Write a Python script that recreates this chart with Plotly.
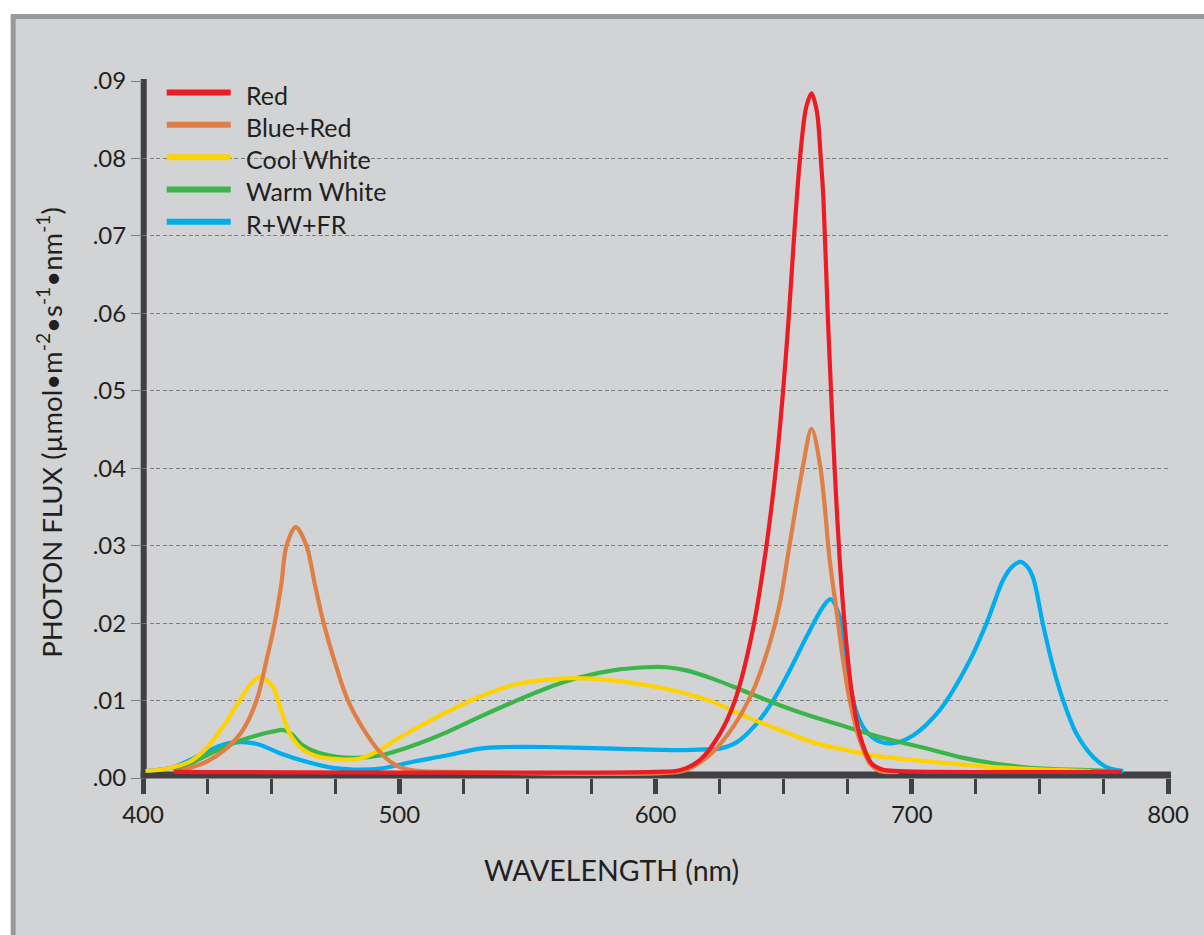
import plotly.graph_objects as go

# ---------------- data ----------------
series_names = ["Red", "Blue+Red", "Cool White", "Warm White", "R+W+FR"]
series_colors = ["#ed1c24", "#e07f45", "#ffd200", "#39b54a", "#00aeef"]

red_wl = [412, 600, 609.5, 617.3, 625.1, 631, 638.2, 643.3, 647, 649.8, 652.1, 654.1,
          656.4, 658.8, 660.9, 663.0, 664.5, 665.5, 667.2, 668.5, 669.9, 671.9, 673.9,
          676.3, 679.6, 684.3, 688.5, 695, 782]
red_flux = [0.0008, 0.0008, 0.0010, 0.0023, 0.0057, 0.0100, 0.0195, 0.0300, 0.0400, 0.0500,
            0.0600, 0.0700, 0.0800, 0.0866, 0.0884, 0.0860, 0.0800, 0.0750, 0.0600, 0.0500,
            0.0400, 0.0281, 0.0195, 0.0118, 0.0057, 0.0019, 0.0011, 0.0009, 0.0008]

bluered_wl = [413, 424.7, 432.5, 439, 444.3, 448.2, 451.4, 454, 456, 459.6, 463.8, 467,
              470.5, 475.5, 480, 487.2, 493.7, 500.2, 508, 520, 609.5, 615, 622.5, 630.3,
              638.1, 644.6, 648.5, 651.8, 657.4, 660.9, 664.4, 668, 670.6, 673.2, 675.8,
              679.7, 683.6, 687.5, 695]
bluered_flux = [0.0008, 0.0021, 0.0038, 0.0062, 0.0100, 0.0152, 0.0200, 0.0251, 0.0300,
                0.0324, 0.0300, 0.0251, 0.0200, 0.0143, 0.0100, 0.0057, 0.0029, 0.0014,
                0.0009, 0.0008, 0.0008, 0.0015, 0.0034, 0.0066, 0.0113, 0.0174, 0.0225,
                0.0290, 0.0400, 0.0451, 0.0400, 0.0281, 0.0217, 0.0152, 0.0100, 0.0049,
                0.0019, 0.0009, 0.0008]

cool_wl = [401, 409, 418.2, 424.7, 431.2, 437.7, 441.5, 445.8, 450.7, 453.4, 457.3, 461.2,
           467.7, 476.8, 484.6, 492.4, 498, 505.4, 518.4, 531.4, 544.4, 557.5, 567.8,
           583.4, 596.5, 609.5, 622.5, 635.5, 648.5, 661.5, 674.5, 687.5, 711, 731.8,
           751.3, 770]
cool_flux = [0.0009, 0.0012, 0.0021, 0.0038, 0.0066, 0.0100, 0.0119, 0.0131, 0.0118, 0.0092,
             0.0057, 0.0040, 0.0028, 0.0024, 0.0025, 0.0036, 0.0048, 0.0062, 0.0085, 0.0105,
             0.0120, 0.0127, 0.0129, 0.0126, 0.0120, 0.0111, 0.0098, 0.0079, 0.0062, 0.0046,
             0.0036, 0.0028, 0.0020, 0.0014, 0.0011, 0.0009]

warm_wl = [412, 418.2, 424.7, 431.2, 437.7, 444.3, 450.7, 454.6, 457.9, 462.4, 470.3, 482,
           492.4, 505.4, 518.4, 531.4, 544.4, 557.5, 570.5, 583.4, 596.5, 604.3, 612,
           622.5, 635.5, 648.5, 661.5, 674.5, 687.5, 705.8, 718.8, 731.8, 751.3, 770.8, 780]
warm_flux = [0.0009, 0.0018, 0.0029, 0.0039, 0.0048, 0.0055, 0.0060, 0.0062, 0.0057, 0.0042,
             0.0031, 0.0026, 0.0029, 0.0042, 0.0059, 0.0079, 0.0098, 0.0116, 0.0130, 0.0139,
             0.0143, 0.0143, 0.0139, 0.0128, 0.0111, 0.0094, 0.0079, 0.0066, 0.0053, 0.0038,
             0.0027, 0.0019, 0.0012, 0.0010, 0.0009]

rwfr_wl = [401, 411.7, 419.5, 427.3, 433.8, 440.4, 445.5, 453.4, 463.8, 474.2, 482, 492.4,
           505.4, 518.4, 531.4, 541.8, 557.5, 583.4, 609.5, 620, 625.1, 631.6, 639.4, 645.9,
           652.4, 658.9, 665.4, 668.3, 671.9, 674.5, 677.1, 681, 686.2, 692.7, 700.5, 711,
           722.7, 729.2, 735.7, 739.2, 742.5, 745.3, 747.6, 751.1, 755.2, 759.1, 764.3,
           770.8, 776, 782.5]
rwfr_flux = [0.0009, 0.0014, 0.0025, 0.0038, 0.0045, 0.0046, 0.0043, 0.0032, 0.0021, 0.0013,
             0.0011, 0.0012, 0.0021, 0.0029, 0.0038, 0.0040, 0.0040, 0.0038, 0.0036, 0.0037,
             0.0038, 0.0046, 0.0070, 0.0100, 0.0139, 0.0182, 0.0221, 0.0231, 0.0208, 0.0152,
             0.0100, 0.0066, 0.0049, 0.0045, 0.0055, 0.0088, 0.0152, 0.0200, 0.0256, 0.0273,
             0.0279, 0.0272, 0.0256, 0.0200, 0.0143, 0.0100, 0.0057, 0.0027, 0.0014, 0.0009]

x_tick_vals = [400, 500, 600, 700, 800]
x_tick_text = ["400", "500", "600", "700", "800"]
y_tick_vals = [0, 0.01, 0.02, 0.03, 0.04, 0.05, 0.06, 0.07, 0.08, 0.09]
y_tick_text = [".00", ".01", ".02", ".03", ".04", ".05", ".06", ".07", ".08", ".09"]

x_title = "WAVELENGTH (nm)"
y_title = "PHOTON FLUX (µmol•m<sup>-2</sup>•s<sup>-1</sup>•nm<sup>-1</sup>)"

# ---------------- geometry / style ----------------
W, H = 1204, 935
ML, MR, MT, MB = 143.3, 36, 81, 157.4
PW = W - ML - MR
PH = H - MT - MB
FONT = "Lato"
TXT = "#231f20"
AXIS = "#414042"
GRID = "#7d7e80"


def px_x(px):
    return (px - ML) / PW


def px_y(py):
    return (H - MB - py) / PH


series = [
    (red_wl, red_flux),
    (bluered_wl, bluered_flux),
    (cool_wl, cool_flux),
    (warm_wl, warm_flux),
    (rwfr_wl, rwfr_flux),
]

fig = go.Figure()
# draw in reverse legend order so Red ends on top
for i in reversed(range(len(series))):
    wl, fl = series[i]
    fig.add_trace(go.Scatter(
        x=wl, y=fl, mode="lines", name=series_names[i],
        line=dict(color=series_colors[i], width=4.2, shape="spline", smoothing=0.9),
        showlegend=False, hoverinfo="x+y+name",
    ))

shapes = [
    # outer frame
    dict(type="rect", xref="paper", yref="paper", layer="below",
         x0=px_x(11), x1=px_x(1220), y0=px_y(950), y1=px_y(14),
         fillcolor="#98999b", line=dict(width=0)),
    dict(type="rect", xref="paper", yref="paper", layer="below",
         x0=px_x(16), x1=px_x(1220), y0=px_y(950), y1=px_y(19),
         fillcolor="#d2d3d5", line=dict(width=0)),
    # axis lines
    dict(type="rect", xref="paper", yref="paper", layer="between",
         x0=px_x(141), x1=px_x(1171), y0=px_y(778), y1=px_y(771),
         fillcolor=AXIS, line=dict(width=0)),
    dict(type="rect", xref="paper", yref="paper", layer="between",
         x0=px_x(141), x1=px_x(147), y0=px_y(778), y1=px_y(79),
         fillcolor=AXIS, line=dict(width=0)),
]

annotations = []
leg_y0, leg_dy = 92.5, 32.3
for i, name in enumerate(series_names):
    ly = leg_y0 + i * leg_dy
    shapes.append(dict(type="line", xref="paper", yref="paper", layer="above",
                       x0=px_x(167), x1=px_x(231), y0=px_y(ly), y1=px_y(ly),
                       line=dict(color=series_colors[i], width=6)))
    annotations.append(dict(xref="paper", yref="paper", x=px_x(244), y=px_y(ly + 2),
                            xanchor="left", yanchor="middle", showarrow=False,
                            text=name, font=dict(family=FONT, size=25, color=TXT)))

annotations.append(dict(xref="paper", yref="paper", x=px_x(611.5), y=px_y(870),
                        xanchor="center", yanchor="middle", showarrow=False,
                        text=x_title, font=dict(family=FONT, size=28.5, color=TXT)))
annotations.append(dict(xref="paper", yref="paper", x=px_x(50), y=px_y(432),
                        xanchor="center", yanchor="middle", showarrow=False, textangle=-90,
                        text=y_title, font=dict(family=FONT, size=27.5, color=TXT)))

fig.update_layout(
    width=W, height=H,
    margin=dict(l=ML, r=MR, t=MT, b=MB, pad=0),
    paper_bgcolor="white",
    plot_bgcolor="rgba(0,0,0,0)",
    font=dict(family=FONT, color=TXT),
    shapes=shapes,
    annotations=annotations,
    showlegend=False,
    xaxis=dict(
        range=[400, 800], showgrid=False, zeroline=False, showline=False,
        tickvals=x_tick_vals, ticktext=x_tick_text,
        ticks="outside", ticklen=15, tickwidth=5, tickcolor=AXIS,
        tickfont=dict(family=FONT, size=24, color=TXT),
        minor=dict(ticks="outside", dtick=25, tick0=400, ticklen=15, tickwidth=2.5,
                   tickcolor=AXIS, showgrid=False),
    ),
    yaxis=dict(
        range=[0, 0.09], zeroline=False, showline=False,
        tickvals=y_tick_vals, ticktext=y_tick_text,
        ticks="outside", ticklen=11, tickwidth=1.3, tickcolor=GRID,
        showgrid=True, gridcolor=GRID, gridwidth=1.3, griddash="4px,2.5px",
        tickfont=dict(family=FONT, size=24, color=TXT),
    ),
)

fig.write_html("out.html", config={"displayModeBar": False},
               post_script="document.body.style.margin='0px';")
